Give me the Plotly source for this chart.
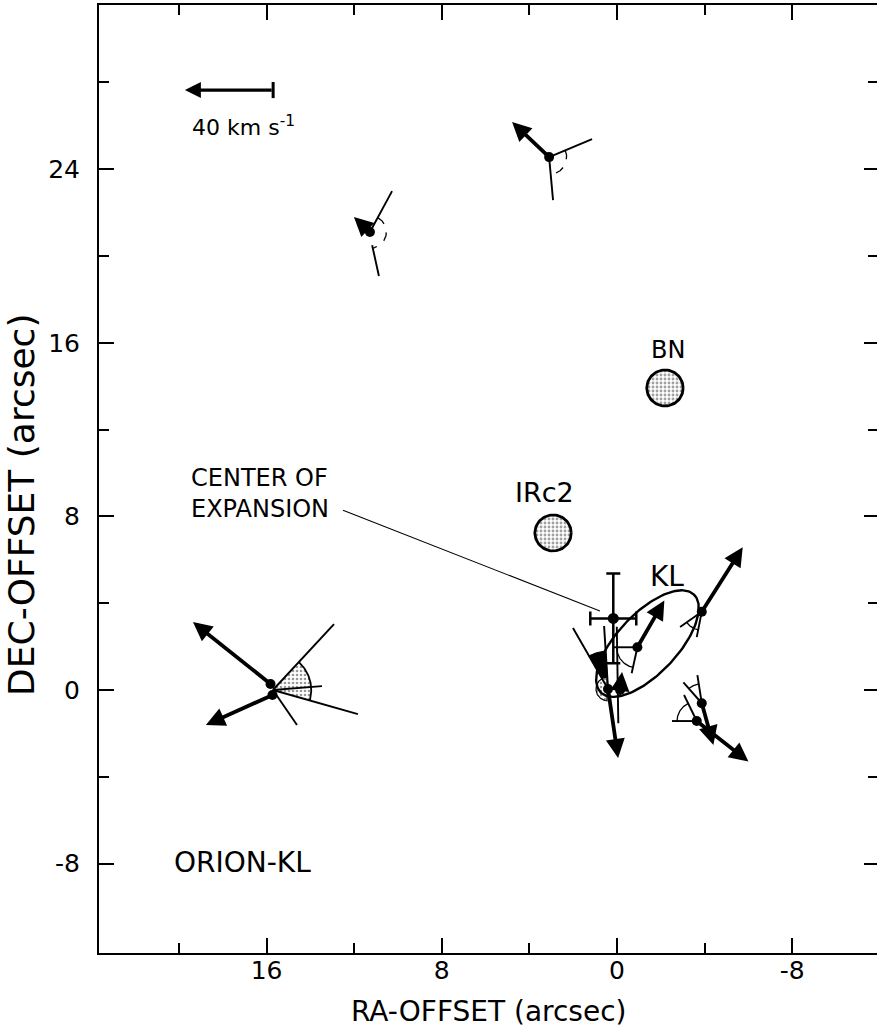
import numpy as np
import plotly.graph_objects as go

# ---------------- axes ----------------
x_range = [23.65, -11.87]
y_range = [-12.12, 31.57]
x_major = [16, 8, 0, -8]
x_major_text = ["16", "8", "0", "-8"]
x_minor = [20, 12, 4, -4]
y_major = [24, 16, 8, 0, -8]
y_major_text = ["24", "16", "8", "0", "-8"]
y_minor = [28, 20, 12, 4, -4]

# ---------------- data (arcsec) ----------------
# maser spots (dots)
dot_x = [3.10, 11.28, 15.82, 15.73, -3.87, -0.93, 0.41, -0.14, -3.87, -3.64]
dot_y = [24.56, 21.11, 0.28, -0.23, 3.61, 1.97, 0.05, 0.00, -0.61, -1.43]

# proper-motion vectors (thick arrows): tail -> tip
arr_x0 = [3.10, 11.28, 15.82, 15.73, -3.87, -0.93, 0.41, -0.14, -3.87, -3.64]
arr_y0 = [24.56, 21.11, 0.28, -0.23, 3.61, 1.97, 0.05, 0.00, -0.61, -1.43]
arr_x1 = [4.79, 12.01, 19.36, 18.77, -5.74, -2.16, -0.05, -0.23, -4.40, -6.00]
arr_y1 = [26.18, 21.80, 3.13, -1.61, 6.58, 4.12, -3.13, 0.83, -2.53, -3.30]

# thin lines (projected directions)
ln_x0 = [3.10, 3.10, 11.28, 11.18, 15.71, 15.71, 15.71, 15.71, -3.87, -3.87,
         -0.93, -0.93, 0.41, 0.41, 0.01, -3.87, -3.87, -3.64, -3.64]
ln_y0 = [24.56, 24.56, 21.11, 20.50, 0.0, 0.0, 0.0, 0.0, 3.61, 3.61,
         1.97, 1.97, 0.05, 0.05, 2.92, -0.61, -0.61, -1.43, -1.43]
ln_x1 = [1.14, 2.92, 10.27, 10.87, 12.92, 13.47, 11.83, 14.61, -2.88, -3.64,
         -0.67, 0.17, 0.59, 2.01, -0.06, -3.67, -3.03, -3.06, -2.51]
ln_y1 = [25.39, 22.58, 22.99, 19.08, 3.04, 0.18, -1.11, -1.61, 2.90, 2.44,
         0.77, 1.97, 2.95, 2.86, -1.53, 0.69, 0.35, -0.23, -1.43]

# angle arcs: centre, radius, start/end angle (deg, screen orientation)
arc_cx = [3.10, 11.28, -3.87, -0.93, -3.87, -3.64]
arc_cy = [24.56, 21.11, 3.61, 1.97, -0.61, -1.43]
arc_r = [0.80, 0.75, 0.85, 0.95, 0.90, 0.90]
arc_a0 = [22.7, 61.8, 215.0, 180.0, 98.8, 116.0]
arc_a1 = [-84.7, -78.4, 259.0, 258.0, 131.2, 180.0]
arc_dash = ["dash", "dash", "solid", "solid", "solid", "solid"]

# filled sectors
sec_cx = [15.71, 0.41]
sec_cy = [0.0, 0.05]
sec_r = [1.75, 1.75]
sec_a0 = [47.3, 93.6]
sec_a1 = [-15.8, 119.8]
sec_style = ["stipple", "black"]

# stippled half disc at the KL spot
half_cx, half_cy, half_r, half_a0, half_a1 = 0.41, 0.05, 0.55, 95.0, 265.0

# infrared sources
src_names = ["BN", "IRc2"]
src_x = [-2.19, 2.92]
src_y = [13.92, 7.24]
src_r = 0.83
src_label_x = [-2.33, 3.29]
src_label_y = [15.67, 9.12]

# KL nebula ellipse
kl_cx, kl_cy, kl_a, kl_b, kl_ang = -1.39, 2.14, 3.10, 1.38, 47.0
kl_label = (-2.28, 5.21)

# centre of expansion
coe_x, coe_y = [0.17], [3.30]
coe_ex, coe_ey = [1.05], [2.07]
leader_x = [12.51, 0.78]
leader_y = [8.29, 3.64]
coe_text_xy = (19.55, 9.08)

# velocity scale bar (40 km/s)
bar_x = [15.70, 19.73]
bar_y = [27.65, 27.65]
bar_tick_y = [27.28, 28.02]
bar_label_xy = (19.5, 26.0)

FONT = "DejaVu Sans"
fig = go.Figure()


def arc_pts(cx, cy, r, a0, a1, n=60):
    t = np.radians(np.linspace(a0, a1, n))
    return cx - r * np.cos(t), cy + r * np.sin(t)


# filled sectors
for cx, cy, r, a0, a1, st in zip(sec_cx, sec_cy, sec_r, sec_a0, sec_a1, sec_style):
    ax_, ay_ = arc_pts(cx, cy, r, a0, a1)
    xs = np.concatenate([[cx], ax_, [cx]])
    ys = np.concatenate([[cy], ay_, [cy]])
    if st == "stipple":
        fig.add_trace(go.Scatter(x=xs, y=ys, mode="lines", fill="toself",
                                 fillcolor="white",
                                 fillpattern=dict(shape=".", fgcolor="#333", bgcolor="white",
                                                  size=4, solidity=0.35),
                                 line=dict(color="rgba(0,0,0,0)", width=0),
                                 hoverinfo="skip", showlegend=False))
        fig.add_trace(go.Scatter(x=ax_, y=ay_, mode="lines",
                                 line=dict(color="black", width=1.8),
                                 hoverinfo="skip", showlegend=False))
    else:
        fig.add_trace(go.Scatter(x=xs, y=ys, mode="lines", fill="toself",
                                 fillcolor="black", line=dict(color="black", width=1),
                                 hoverinfo="skip", showlegend=False))

# stippled half disc
hx, hy = arc_pts(half_cx, half_cy, half_r, half_a0, half_a1)
fig.add_trace(go.Scatter(x=np.concatenate([hx, [hx[0]]]), y=np.concatenate([hy, [hy[0]]]),
                         mode="lines", fill="toself", fillcolor="white",
                         fillpattern=dict(shape=".", fgcolor="#333", bgcolor="white",
                                          size=4, solidity=0.35),
                         line=dict(color="black", width=1.2),
                         hoverinfo="skip", showlegend=False))

# IR sources
for sx, sy in zip(src_x, src_y):
    cx_, cy_ = arc_pts(sx, sy, src_r, 0, 360, 90)
    fig.add_trace(go.Scatter(x=cx_, y=cy_, mode="lines", fill="toself", fillcolor="white",
                             fillpattern=dict(shape=".", fgcolor="#444", bgcolor="white",
                                              size=4, solidity=0.4),
                             line=dict(color="black", width=2.8),
                             hoverinfo="skip", showlegend=False))

# KL ellipse
t = np.radians(np.linspace(0, 360, 160))
u = kl_a * np.cos(t)
v = kl_b * np.sin(t)
ph = np.radians(kl_ang)
dx = u * np.cos(ph) - v * np.sin(ph)
dy = u * np.sin(ph) + v * np.cos(ph)
fig.add_trace(go.Scatter(x=kl_cx - dx, y=kl_cy + dy, mode="lines",
                         line=dict(color="black", width=2.4),
                         hoverinfo="skip", showlegend=False))

# thin lines
for x0, y0, x1, y1 in zip(ln_x0, ln_y0, ln_x1, ln_y1):
    fig.add_trace(go.Scatter(x=[x0, x1], y=[y0, y1], mode="lines",
                             line=dict(color="black", width=1.9),
                             hoverinfo="skip", showlegend=False))

# arcs
for cx, cy, r, a0, a1, ds in zip(arc_cx, arc_cy, arc_r, arc_a0, arc_a1, arc_dash):
    ax_, ay_ = arc_pts(cx, cy, r, a0, a1)
    fig.add_trace(go.Scatter(x=ax_, y=ay_, mode="lines",
                             line=dict(color="black", width=1.3, dash=ds),
                             hoverinfo="skip", showlegend=False))

# leader line
fig.add_trace(go.Scatter(x=leader_x, y=leader_y, mode="lines",
                         line=dict(color="black", width=1.1),
                         hoverinfo="skip", showlegend=False))

# scale bar end tick
fig.add_trace(go.Scatter(x=[bar_x[0], bar_x[0]], y=bar_tick_y, mode="lines",
                         line=dict(color="black", width=3),
                         hoverinfo="skip", showlegend=False))

# dots
fig.add_trace(go.Scatter(x=dot_x, y=dot_y, mode="markers",
                         marker=dict(color="black", size=10),
                         hoverinfo="skip", showlegend=False))

# centre of expansion with error bars
fig.add_trace(go.Scatter(x=coe_x, y=coe_y, mode="markers",
                         marker=dict(color="black", size=11),
                         error_x=dict(type="data", array=coe_ex, color="black",
                                      thickness=2.5, width=7),
                         error_y=dict(type="data", array=coe_ey, color="black",
                                      thickness=2.5, width=7),
                         hoverinfo="skip", showlegend=False))

# invisible trace on the right-hand tick axis
fig.add_trace(go.Scatter(x=coe_x, y=coe_y, yaxis="y2", mode="markers",
                         marker=dict(opacity=0), hoverinfo="skip", showlegend=False))

annotations = []
# thick arrows
for x0, y0, x1, y1 in zip(arr_x0, arr_y0, arr_x1, arr_y1):
    annotations.append(dict(x=x1, y=y1, ax=x0, ay=y0, xref="x", yref="y",
                            axref="x", ayref="y", showarrow=True, text="",
                            arrowhead=2, arrowsize=1.0, arrowwidth=3.8,
                            arrowcolor="black", standoff=0, startstandoff=0))
# scale bar arrow
annotations.append(dict(x=bar_x[1], y=bar_y[1], ax=bar_x[0], ay=bar_y[0], xref="x",
                        yref="y", axref="x", ayref="y", showarrow=True, text="",
                        arrowhead=2, arrowsize=1.0, arrowwidth=3.2,
                        arrowcolor="black", standoff=0, startstandoff=0))

annotations += [
    dict(x=bar_label_xy[0], y=bar_label_xy[1], xref="x", yref="y", xanchor="left",
         yanchor="middle", showarrow=False, text="40 km s<sup>-1</sup>",
         font=dict(family=FONT, size=22, color="black")),
    dict(x=coe_text_xy[0], y=coe_text_xy[1], xref="x", yref="y", xanchor="left",
         yanchor="middle", showarrow=False, align="left",
         text="CENTER OF<br>EXPANSION", font=dict(family=FONT, size=24, color="black")),
    dict(x=kl_label[0], y=kl_label[1], xref="x", yref="y", showarrow=False,
         text="KL", font=dict(family=FONT, size=28, color="black")),
    dict(x=20.3, y=-7.93, xref="x", yref="y", xanchor="left", yanchor="middle",
         showarrow=False, text="ORION-KL", font=dict(family=FONT, size=28, color="black")),
    dict(x=0.5, y=-0.0622, xref="paper", yref="paper", xanchor="center",
         yanchor="middle", showarrow=False, text="RA-OFFSET (arcsec)",
         font=dict(family=FONT, size=28, color="black")),
    dict(x=-0.099, y=0.4726, xref="paper", yref="paper", xanchor="center",
         yanchor="middle", showarrow=False, textangle=-90,
         text="DEC-OFFSET (arcsec)", font=dict(family=FONT, size=36, color="black")),
]
src_font = [dict(family=FONT, size=24, color="black"),
            dict(family=FONT, size=27, color="black")]
for nm, lx, ly, fnt in zip(src_names, src_label_x, src_label_y, src_font):
    annotations.append(dict(x=lx, y=ly, xref="x", yref="y", showarrow=False,
                            text=nm, font=fnt))

axis_common = dict(showgrid=False, zeroline=False, ticks="inside", tickwidth=2,
                   tickcolor="black", linecolor="black", linewidth=2,
                   tickfont=dict(family=FONT, size=25, color="black"))

fig.update_layout(
    width=877, height=1031,
    margin=dict(l=99, r=0, t=5, b=78),
    paper_bgcolor="white", plot_bgcolor="white",
    showlegend=False,
    annotations=annotations,
    xaxis=dict(range=x_range, tickmode="array", tickvals=x_major, ticktext=x_major_text,
               ticklen=15, showline=True, mirror="ticks", ticklabelstandoff=-6,
               minor=dict(tickmode="array", tickvals=x_minor, ticks="inside",
                          ticklen=10, tickwidth=2, tickcolor="black"),
               **axis_common),
    yaxis=dict(range=y_range, tickmode="array", tickvals=y_major, ticktext=y_major_text,
               ticklen=15, showline=True, mirror=False, ticklabelstandoff=12,
               minor=dict(tickmode="array", tickvals=y_minor, ticks="inside",
                          ticklen=10, tickwidth=2, tickcolor="black"),
               **axis_common),
    yaxis2=dict(range=y_range, overlaying="y", side="right", showticklabels=False,
                showline=False, showgrid=False, zeroline=False, ticks="inside",
                tickvals=y_major, ticklen=13, tickwidth=2, tickcolor="black",
                minor=dict(tickmode="array", tickvals=y_minor, ticks="inside",
                           ticklen=9, tickwidth=2, tickcolor="black")),
)

fig.write_html("out.html")
